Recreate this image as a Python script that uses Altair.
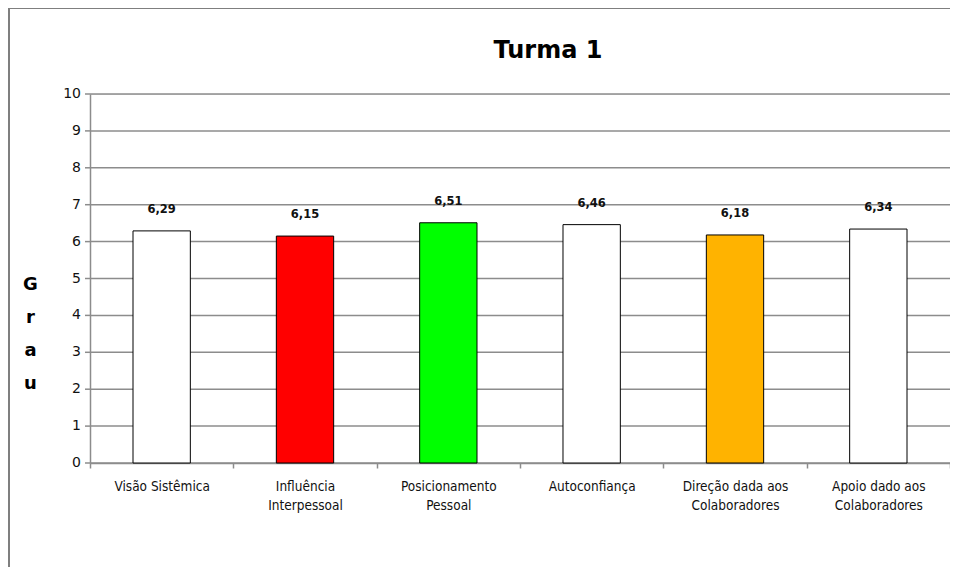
import altair as alt
import pandas as pd

title_text = ["Turma 1"]
categories = ["Visão Sistêmica", "Influência|Interpessoal", "Posicionamento|Pessoal",
              "Autoconfiança", "Direção dada aos|Colaboradores", "Apoio dado aos|Colaboradores"]
values = [6.29, 6.15, 6.51, 6.46, 6.18, 6.34]
labels = ["6,29", "6,15", "6,51", "6,46", "6,18", "6,34"]
colors = ["#FFFFFF", "#FF0000", "#00FF00", "#FFFFFF", "#FFB300", "#FFFFFF"]
y_ticks = [0, 1, 2, 3, 4, 5, 6, 7, 8, 9, 10]

df = pd.DataFrame({"cat": categories, "val": values, "lab": labels, "col": colors})
ticks_df = pd.DataFrame({"t": y_ticks, "tl": [str(v) for v in y_ticks]})
title_df = pd.DataFrame({"t": title_text})

GRAY = "#8c8c8c"

x_axis = alt.Axis(title=None, labelAngle=0, tickBand="extent",
                  labelExpr="split(datum.label, '|')",
                  labelFont="DejaVu Sans Condensed", labelFontSize=13.5,
                  labelColor="#111", labelPadding=11, labelLineHeight=19,
                  domainColor=GRAY, domainWidth=1.5,
                  tickColor=GRAY, tickSize=5, tickWidth=1.5,
                  labelBaseline="top")
x_scale = alt.Scale(paddingInner=0, paddingOuter=0)

y_axis = alt.Axis(title=["G", "r", "a", "u"], titleAngle=0,
                  titleFont="DejaVu Sans", titleFontSize=18, titleFontWeight="bold",
                  titleLineHeight=33, titleX=-60, titleY=190, titleBaseline="middle",
                  titleAlign="center", titleColor="#000",
                  labels=False, ticks=False, grid=False,
                  domainColor=GRAY, domainWidth=1.5)
y_scale = alt.Scale(domain=[0, 10], nice=False)

grid = alt.Chart(ticks_df).mark_rule(color=GRAY, strokeWidth=1.5).encode(
    y=alt.Y("t:Q", scale=y_scale, axis=y_axis)
)
yticks = alt.Chart(ticks_df).mark_rule(color=GRAY, strokeWidth=1.5, clip=False).encode(
    y=alt.Y("t:Q"), x=alt.value(-5), x2=alt.value(0)
)
ylabels = alt.Chart(ticks_df).mark_text(align="right", baseline="middle", font="DejaVu Sans",
                                        fontSize=14, color="#111").encode(
    y=alt.Y("t:Q"), x=alt.value(-9), text="tl:N"
)

bars = alt.Chart(df).mark_bar(width={"band": 0.4}, stroke="black", strokeWidth=1).encode(
    x=alt.X("cat:N", sort=categories, scale=x_scale, axis=x_axis),
    y=alt.Y("val:Q", scale=y_scale, axis=y_axis),
    color=alt.Color("col:N", scale=None, legend=None),
)

text = alt.Chart(df).mark_text(dy=-21, baseline="middle", font="DejaVu Sans",
                               fontWeight="bold", fontSize=11.5, color="#111").encode(
    x=alt.X("cat:N", sort=categories),
    y=alt.Y("val:Q"),
    text="lab:N",
)

title = alt.Chart(title_df).mark_text(font="DejaVu Sans", fontSize=24, fontWeight="bold",
                                      color="#000", align="center", baseline="bottom").encode(
    x=alt.value(458), y=alt.value(-31), text="t:N"
)

frame_left = alt.Chart(title_df).mark_rule(color="#7f7f7f", strokeWidth=2, clip=False).encode(
    x=alt.value(-81), y=alt.value(-86), y2=alt.value(487)
)
frame_top = alt.Chart(title_df).mark_rule(color="#7f7f7f", strokeWidth=2, clip=False).encode(
    x=alt.value(-82), x2=alt.value(868), y=alt.value(-86)
)

chart = alt.layer(grid, yticks, ylabels, bars, text, title, frame_left, frame_top).properties(
    width=860, height=369,
    autosize=alt.AutoSizeParams(type="none"),
    padding={"left": 82, "top": 86, "right": 0, "bottom": 104},
).configure_view(stroke=None).configure(background="white")

chart.save("out.html", embed_options={"renderer": "svg", "actions": False})
